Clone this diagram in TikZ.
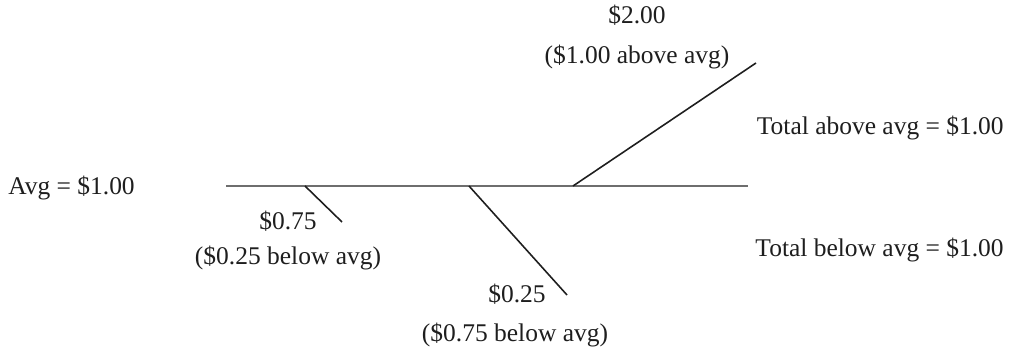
\documentclass[tikz,border=0pt]{standalone}
\usepackage{fontspec}
\setmainfont{Liberation Serif}
\definecolor{ink}{HTML}{1E1E1E}
\definecolor{rule}{HTML}{6E6E6E}
\tikzset{
  lbl/.style  = {font=\fontsize{14.5}{17}\selectfont, text=ink, inner sep=0pt},
  base/.style = {line width=1.6pt, color=rule},
  twig/.style = {line width=0.9pt, color=ink},
}
\begin{document}
\begin{tikzpicture}[x=0.02cm, y=-0.02cm]
  \useasboundingbox (0,0) rectangle (1010,350);

  % the average line
  \coordinate (l0) at (226,186);
  \coordinate (l1) at (748,186);
  \draw[base] (l0) -- (l1);

  % one branch per value
  \coordinate (b1) at (305,186);  \coordinate (e1) at (342,222);
  \coordinate (b2) at (469,186);  \coordinate (e2) at (567,295);
  \coordinate (b3) at (573,186);  \coordinate (e3) at (756,63);
  \foreach \i/\j in {b1/e1, b2/e2, b3/e3}
    \draw[twig] (\i) -- (\j);

  \node[lbl, anchor=base west] (avg) at (8,195) {Avg = \$1.00};

  \node[lbl, anchor=base] (v1) at (288,230) {\$0.75};
  \node[lbl, anchor=base] (d1) at (288,265) {(\$0.25 below avg)};
  \node[lbl, anchor=base] (v2) at (517,303) {\$0.25};
  \node[lbl, anchor=base] (d2) at (515,342) {(\$0.75 below avg)};
  \node[lbl, anchor=base] (v3) at (637,24) {\$2.00};
  \node[lbl, anchor=base] (d3) at (637,64) {(\$1.00 above avg)};

  \node[lbl, anchor=base east] (tup) at (1004,135) {Total above avg = \$1.00};
  \node[lbl, anchor=base east] (tdn) at (1004,257) {Total below avg = \$1.00};
\end{tikzpicture}
\end{document}
